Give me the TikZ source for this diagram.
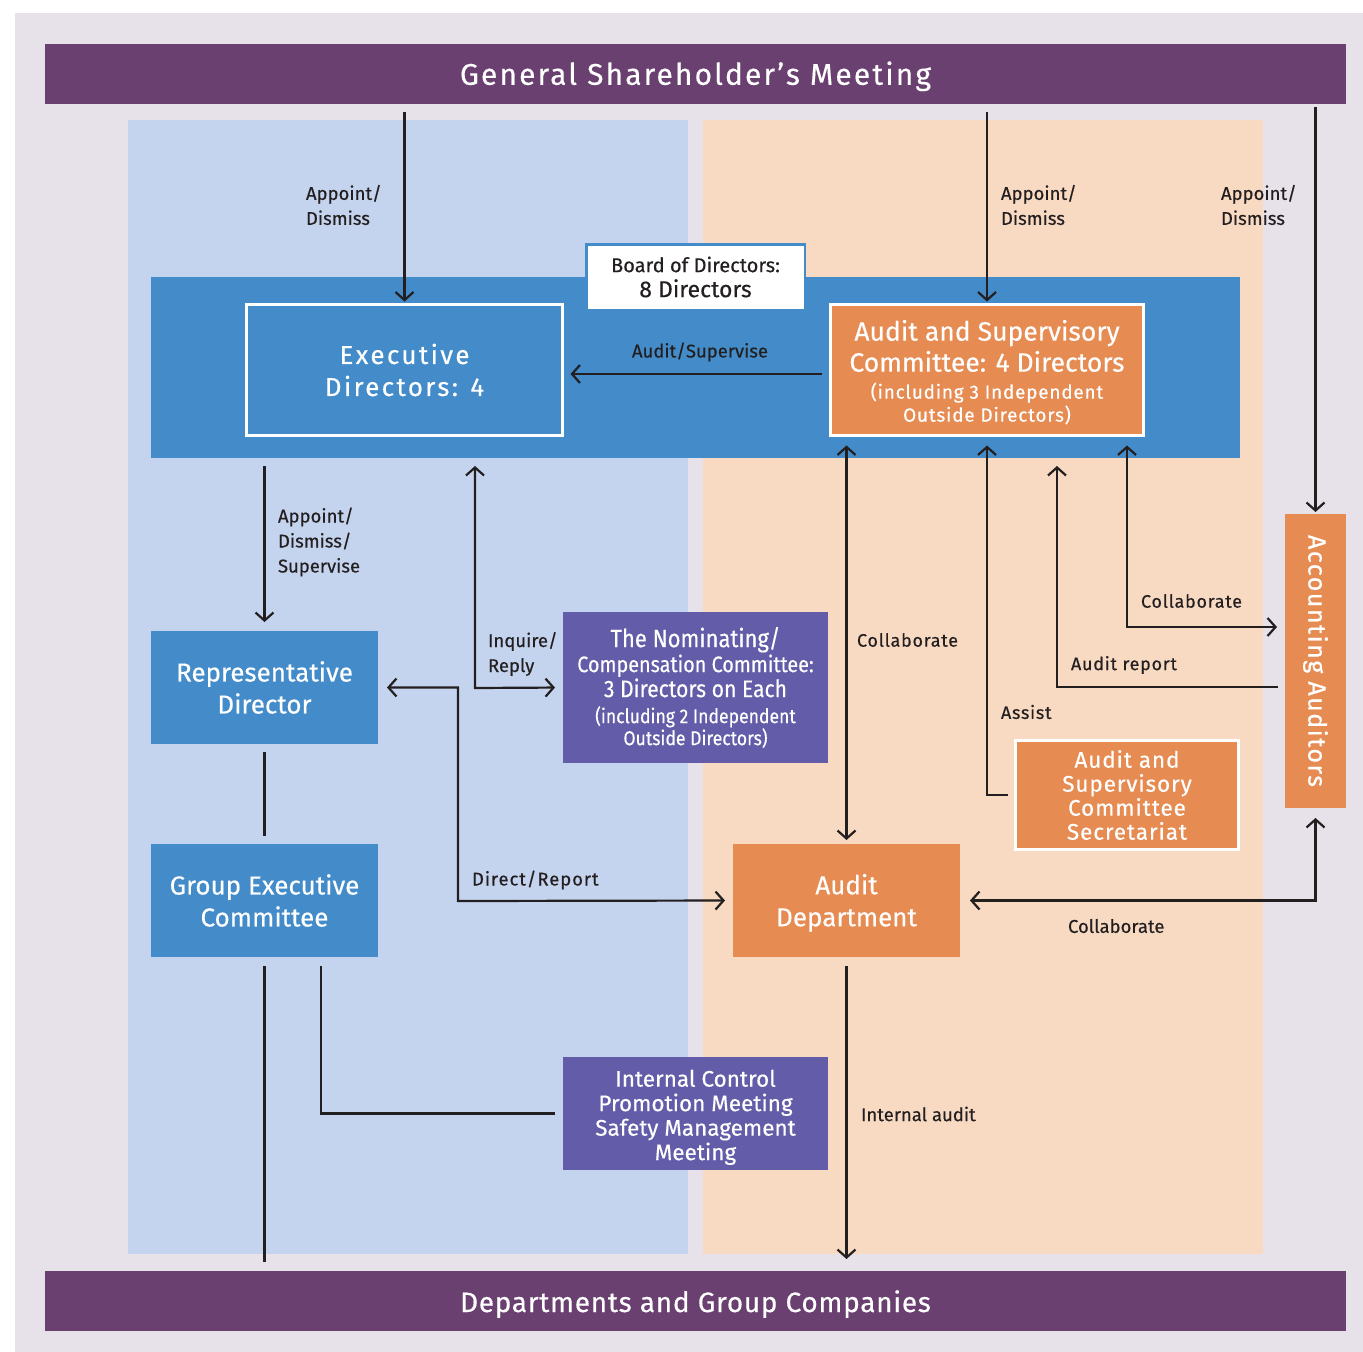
\documentclass[tikz,border=0pt]{standalone}
\usepackage{fontspec}
\setmainfont{Fira Sans}[FakeBold=0.35]
\newfontfamily\barfont[LetterSpace=7,FakeBold=0.35]{Fira Sans}
\newfontfamily\lowbarfont[LetterSpace=2.5,FakeBold=0.35]{Fira Sans}
\newfontfamily\spacedfont[LetterSpace=9,FakeBold=0.35]{Fira Sans}
\newfontfamily\widefont[LetterSpace=4,FakeBold=0.45]{Fira Sans}
\newfontfamily\slightfont[LetterSpace=5,FakeBold=0.4]{Fira Sans}
\newfontfamily\accfont[LetterSpace=6,FakeBold=0.7]{Fira Sans}
\newfontfamily\condfont[FakeStretch=0.88,FakeBold=0.35]{Fira Sans}
\usetikzlibrary{arrows.meta}

\definecolor{bgl}{HTML}{E7E2EA}
\definecolor{purp}{HTML}{6A4071}
\definecolor{lbl}{HTML}{C5D4EE}
\definecolor{pch}{HTML}{F8DAC2}
\definecolor{bandc}{HTML}{438CC9}
\definecolor{orng}{HTML}{E68C53}
\definecolor{vio}{HTML}{635CA8}
\definecolor{ink}{HTML}{231F20}

\tikzset{
  every node/.style={inner sep=0pt, outer sep=0pt},
  bar/.style={fill=purp, text=white, minimum width=1301pt, minimum height=60pt,
    font=\barfont\fontsize{30}{36}\selectfont},
  bluebox/.style={fill=bandc, text=white, align=center,
    font=\fontsize{26}{32}\selectfont},
  orangebox/.style={fill=orng, text=white, align=center},
  violetbox/.style={fill=vio, text=white, align=center},
  framed/.style={draw=white, line width=3pt},
  lab/.style={text=ink, align=left, font=\fontsize{18.5}{25}\selectfont},
  wlab/.style={text=ink, align=left, font=\widefont\fontsize{18}{24}\selectfont},
  conn/.style={draw=ink, line width=2.2pt},
  >={Straight Barb[length=8pt,width=18pt]},
}

\begin{document}
\begin{tikzpicture}[x=1pt,y=-1pt]
\useasboundingbox (0,0) rectangle (1363,1352);
\fill[white] (0,0) rectangle (1363,1352);
\fill[bgl] (15,13) rectangle (1363,1352);
% the two columns
\fill[lbl] (128,120) rectangle (688,1254);
\fill[pch] (703,120) rectangle (1263,1254);

% top and bottom bars
\node[bar] (top) at (695.5,74) {\rule{0pt}{28pt}General Shareholder’s Meeting};
\node[bar, font=\lowbarfont\fontsize{28}{34}\selectfont] (bottom) at (695.5,1301)
  {\rule{0pt}{28pt}Departments and Group Companies};

% board of directors band
\node[fill=bandc, minimum width=1089pt, minimum height=181pt] (band) at (695.5,367.5) {};
\node[fill=white, draw=bandc, line width=2.5pt, minimum width=218.5pt, minimum height=65.5pt,
  align=center, text=ink, font=\fontsize{20}{25}\selectfont] (board) at (695.5,277)
  {Board of Directors:\\{\fontsize{23}{25}\selectfont 8 Directors}};

\node[bluebox, framed, minimum width=316pt, minimum height=131pt,
  font=\spacedfont\fontsize{26}{32}\selectfont] (exec) at (404.5,370)
  {Executive\\Directors: 4};

\node[orangebox, framed, minimum width=313pt, minimum height=131pt,
  font=\fontsize{26.5}{31}\selectfont] (asc) at (987,370)
  {\rule{0pt}{25pt}Audit and Supervisory\\Committee: 4 Directors\\[-4pt]
   {\widefont\fontsize{19}{22}\selectfont (including 3 Independent}\\[-8pt]
   {\widefont\fontsize{19}{22}\selectfont Outside Directors)}};

% left column boxes
\node[bluebox, minimum width=227pt, minimum height=113pt] (rep) at (264.5,687.5)
  {Representative\\Director};
\node[bluebox, minimum width=227pt, minimum height=113pt] (gec) at (264.5,900.5)
  {Group Executive\\Committee};
\node[violetbox, minimum width=265pt, minimum height=151pt,
  font=\condfont\fontsize{25}{25}\selectfont] (nom) at (695.5,687.5)
  {The Nominating/\\{\fontsize{22.5}{25}\selectfont Compensation Committee:}\\
   {\fontsize{24}{25}\selectfont 3 Directors on Each}\\[1pt]
   {\fontsize{20}{22}\selectfont (including 2 Independent}\\[-3pt]
   {\fontsize{20}{22}\selectfont Outside Directors)}};
\node[violetbox, minimum width=265pt, minimum height=113pt,
  font=\fontsize{22.5}{24.5}\selectfont] (icp) at (695.5,1113.5)
  {\rule{0pt}{24.5pt}Internal Control\\Promotion Meeting\\Safety Management\\Meeting};

% right column boxes
\node[orangebox, minimum width=227pt, minimum height=113pt,
  font=\fontsize{26}{32}\selectfont] (adept) at (846.5,900.5)
  {\rule{0pt}{25pt}Audit\\Department};
\node[orangebox, framed, minimum width=223pt, minimum height=109pt,
  font=\widefont\fontsize{22.5}{24}\selectfont] (sec) at (1127,795)
  {Audit and\\Supervisory\\Committee\\Secretariat};
\node[orangebox, minimum width=61pt, minimum height=294pt] (aud) at (1315.5,661)
  {\rotatebox{-90}{\accfont\fontsize{25}{25}\selectfont Accounting Auditors}};

% free corners of routed connectors
\coordinate (iq) at (475,688);
\coordinate (dr) at (458,901);
\coordinate (rpt) at (1057,458);

% connectors
\draw[conn,->,shorten <=8pt,shorten >=3pt] (top.south -| exec.north) -- (exec.north);
\draw[conn,->,shorten <=8pt,shorten >=3pt] (top.south -| asc.north) -- (asc.north);
\draw[conn,->,shorten <=3pt,shorten >=2pt] (top.south -| aud.north) -- (aud.north);
\draw[conn,->,shorten <=9pt,shorten >=8pt] ([yshift=-4pt]asc.west) -- ([yshift=-4pt]exec.east);
\draw[conn,->,shorten <=8pt,shorten >=9pt] (band.south -| rep.north) -- (rep.north);
\draw[conn,<->,shorten <=8pt,shorten >=8pt] (band.south -| iq) -- (iq) -- (nom.west);
\draw[conn,<->,shorten <=9pt,shorten >=8pt] (rep.east) -| (dr) -- (adept.west);
\draw[conn,shorten <=8pt,shorten >=8pt] (rep.south) -- (gec.north);
\draw[conn,shorten <=9pt,shorten >=9pt] (gec.south) -- (gec.south |- bottom.north);
\draw[conn,shorten >=8pt] ([xshift=56.5pt,yshift=-9pt]gec.south) |- (icp.west);
\draw[conn,<->,shorten <=10pt,shorten >=4pt] (asc.south -| adept.north) -- (adept.north);
\draw[conn,->,shorten <=8pt,shorten >=10pt] (sec.west) -| (asc.south);
\draw[conn,->,shorten <=7pt,shorten >=8pt] ([yshift=-26pt]aud.west) -| (rpt);
\draw[conn,<->,shorten <=10pt,shorten >=8pt] ([xshift=140pt]asc.south) |- ([yshift=34pt]aud.west);
\draw[conn,<->,shorten <=10pt,shorten >=10pt] (adept.east) -| (aud.south);
\draw[conn,->,shorten <=9pt,shorten >=12pt] (adept.south) -- (adept.south |- bottom.north);

% connector labels
\node[lab,anchor=west] (lad1) at (306,205) {Appoint/\\Dismiss};
\node[lab,anchor=west] (lad2) at (1001,205) {Appoint/\\Dismiss};
\node[lab,anchor=west] (lad3) at (1221,205) {Appoint/\\Dismiss};
\node[lab] (las) at (700,352) {Audit/Supervise};
\node[lab,anchor=west] (lads) at (278,542) {Appoint/\\Dismiss/\\Supervise};
\node[lab,anchor=west] (liq) at (488,654) {Inquire/\\Reply};
\node[wlab,anchor=west] (lc1) at (857,640) {Collaborate};
\node[wlab,anchor=west] (lasst) at (1001,712) {Assist};
\node[wlab,anchor=west] (lar) at (1071,665) {Audit report};
\node[wlab,anchor=west] (lc2) at (1141,601) {Collaborate};
\node[lab,anchor=west,font=\slightfont\fontsize{18.5}{25}\selectfont] (ldr) at (472,880) {Direct/Report};
\node[lab,anchor=west] (lc3) at (1068,926) {Collaborate};
\node[lab,anchor=west] (lia) at (861,1114) {Internal audit};
\end{tikzpicture}
\end{document}
